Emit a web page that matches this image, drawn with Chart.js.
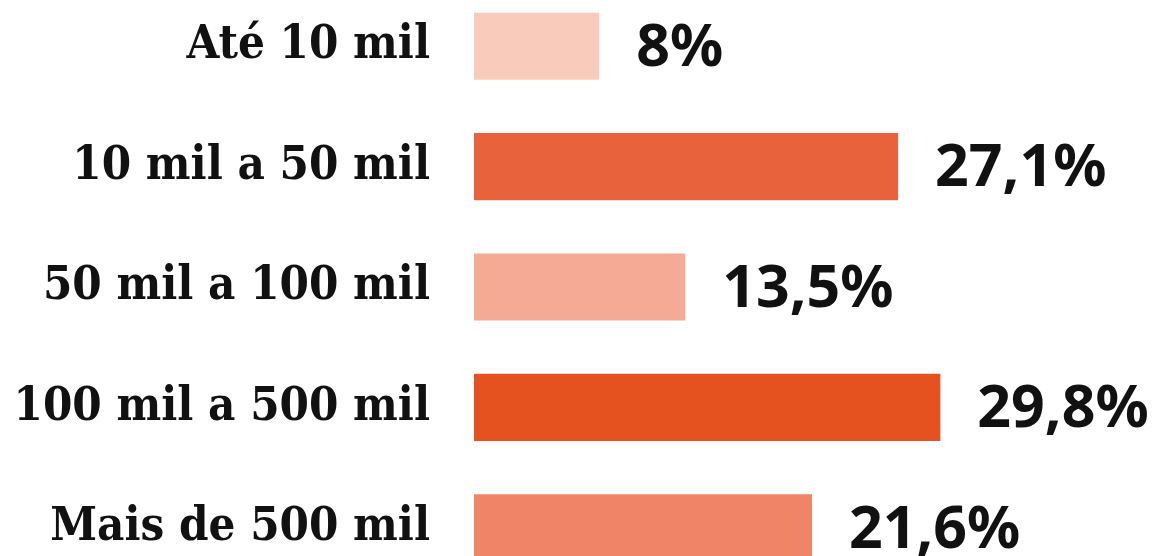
<!DOCTYPE html>
<html>
<head>
<meta charset="utf-8">
<script src="https://cdn.jsdelivr.net/npm/chart.js@4"></script>
<style>
    html, body { margin: 0; padding: 0; background: #ffffff; overflow: hidden; }
    #wrap { position: relative; width: 1164px; height: 602px; margin-top: -14px; }
</style>
</head>
<body>
<div id="wrap"><canvas id="chart"></canvas></div>
<script>
// Faixas de população e percentuais
const categories = ['Até 10 mil', '10 mil a 50 mil', '50 mil a 100 mil', '100 mil a 500 mil', 'Mais de 500 mil'];
const values = [8, 27.1, 13.5, 29.8, 21.6];
const valueLabels = ['8%', '27,1%', '13,5%', '29,8%', '21,6%'];
const barColors = ['#f9cbbb', '#e8633b', '#f4aa94', '#e5511f', '#f08467'];

const VALUE_FONT = "bold 59px 'Noto Sans', 'Open Sans', sans-serif";

// Desenha os percentuais à direita de cada barra
const valueLabelPlugin = {
    id: 'valueLabels',
    afterDatasetsDraw(chart) {
        const ctx = chart.ctx;
        const meta = chart.getDatasetMeta(0);
        ctx.save();
        ctx.font = VALUE_FONT;
        ctx.fillStyle = '#111111';
        ctx.textAlign = 'left';
        ctx.textBaseline = 'middle';
        meta.data.forEach((bar, i) => {
            ctx.fillText(valueLabels[i], bar.x + 37, bar.y + 3);
        });
        ctx.restore();
    },
};

new Chart(document.getElementById('chart'), {
    type: 'bar',
    data: {
        labels: categories,
        datasets: [{
            data: values,
            backgroundColor: barColors,
            borderWidth: 0,
            categoryPercentage: 1,
            barPercentage: 0.557,
        }],
    },
    options: {
        indexAxis: 'y',
        responsive: true,
        maintainAspectRatio: false,
        animation: false,
        layout: { padding: { left: 0, right: 64, top: 0, bottom: 0 } },
        plugins: {
            legend: { display: false },
            tooltip: { enabled: false },
        },
        scales: {
            x: {
                display: false,
                min: 0,
                max: 40,
            },
            y: {
                grid: { display: false, drawTicks: false },
                border: { display: false },
                ticks: {
                    color: '#111111',
                    padding: 44,
                    font: { family: "'DejaVu Serif Condensed', 'DejaVu Serif', serif", size: 47, weight: 'bold' },
                },
                afterFit(scale) {
                    // largura fixa do eixo e sem folga vertical extra
                    scale.width = 474;
                    scale.paddingTop = 0;
                    scale.paddingBottom = 0;
                },
            },
        },
    },
    plugins: [valueLabelPlugin],
});
</script>
</body>
</html>
